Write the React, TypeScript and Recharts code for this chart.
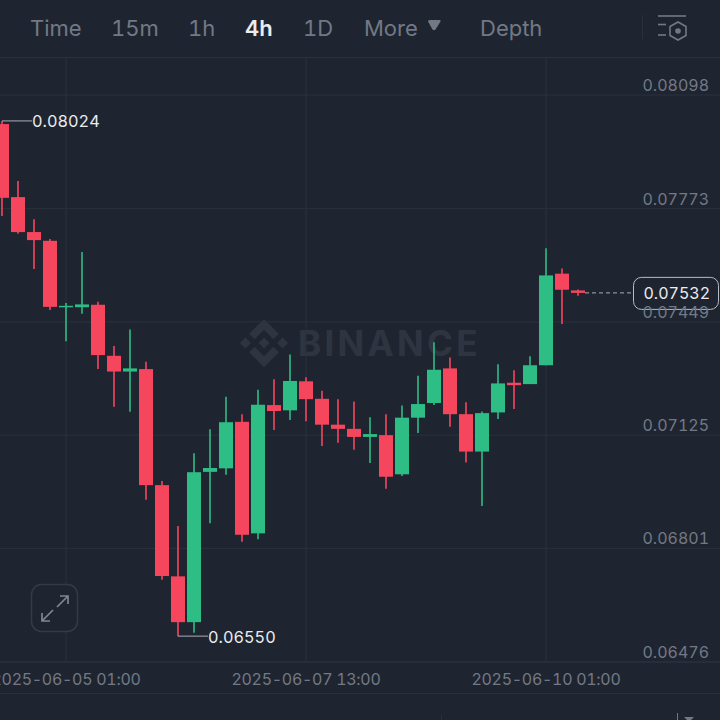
import React from 'react';
import { ComposedChart, Bar, XAxis, YAxis, CartesianGrid } from 'recharts';

const BG = '#1f2530';
const GRID = '#2b313c';
const RED = '#f6465d';
const GREEN = '#2ebd85';
const AXIS_TEXT = '#727985';
const FONT = 'Inter, "Noto Sans", sans-serif';
const TABULAR = { fontVariantNumeric: 'tabular-nums' };

const openTimes = [
  '2025-06-04 09:00', '2025-06-04 13:00', '2025-06-04 17:00', '2025-06-04 21:00',
  '2025-06-05 01:00', '2025-06-05 05:00', '2025-06-05 09:00', '2025-06-05 13:00',
  '2025-06-05 17:00', '2025-06-05 21:00', '2025-06-06 01:00', '2025-06-06 05:00',
  '2025-06-06 09:00', '2025-06-06 13:00', '2025-06-06 17:00', '2025-06-06 21:00',
  '2025-06-07 01:00', '2025-06-07 05:00', '2025-06-07 09:00', '2025-06-07 13:00',
  '2025-06-07 17:00', '2025-06-07 21:00', '2025-06-08 01:00', '2025-06-08 05:00',
  '2025-06-08 09:00', '2025-06-08 13:00', '2025-06-08 17:00', '2025-06-08 21:00',
  '2025-06-09 01:00', '2025-06-09 05:00', '2025-06-09 09:00', '2025-06-09 13:00',
  '2025-06-09 17:00', '2025-06-09 21:00', '2025-06-10 01:00', '2025-06-10 05:00',
  '2025-06-10 09:00',
];

const opens = [
  0.08015, 0.07806, 0.07706, 0.07681, 0.07492, 0.07491, 0.07498, 0.07352, 0.07307, 0.07314,
  0.06982, 0.06721, 0.0659, 0.0702, 0.0703, 0.07163, 0.06844, 0.07211, 0.07196, 0.07279,
  0.07229, 0.07155, 0.07143, 0.0712, 0.07125, 0.07013, 0.07175, 0.07217, 0.07316, 0.07185,
  0.07078, 0.0719, 0.07275, 0.07271, 0.07325, 0.07587, 0.07539,
];
const closes = [
  0.07804, 0.07706, 0.07683, 0.07492, 0.07495, 0.07499, 0.07354, 0.07307, 0.07316, 0.06982,
  0.06722, 0.0659, 0.07019, 0.07031, 0.07162, 0.0684, 0.07212, 0.07194, 0.0728, 0.07228,
  0.07155, 0.07143, 0.0712, 0.07128, 0.07006, 0.07175, 0.07214, 0.07312, 0.07185, 0.07078,
  0.07188, 0.07273, 0.07268, 0.07325, 0.07582, 0.07541, 0.07532,
];
const highs = [
  0.08024, 0.07852, 0.07743, 0.07686, 0.07503, 0.07649, 0.07507, 0.0738, 0.07427, 0.07335,
  0.06994, 0.06865, 0.07073, 0.07142, 0.07235, 0.07185, 0.07255, 0.07285, 0.07356, 0.07291,
  0.07252, 0.07228, 0.07221, 0.07176, 0.07185, 0.0721, 0.07295, 0.07391, 0.07347, 0.07219,
  0.07193, 0.07328, 0.07311, 0.07351, 0.0766, 0.07602, 0.07542,
];
const lows = [
  0.07752, 0.07701, 0.076, 0.07483, 0.07394, 0.07472, 0.07314, 0.07206, 0.07192, 0.0694,
  0.06711, 0.0655, 0.0656, 0.06873, 0.07012, 0.0682, 0.06827, 0.0714, 0.07168, 0.07165,
  0.07094, 0.07103, 0.07083, 0.07045, 0.06972, 0.07008, 0.07131, 0.07211, 0.07149, 0.07047,
  0.06922, 0.07171, 0.072, 0.07271, 0.07325, 0.07443, 0.07524,
];

const priceTicks = [0.06476, 0.06801, 0.07125, 0.07449, 0.07773, 0.08098];
const timeTickLabels = ['2025-06-05 01:00', '2025-06-07 13:00', '2025-06-10 01:00'];
const periodLabels = ['Time', '15m', '1h', '4h', '1D', 'More', 'Depth'];

const HOUR = 3600000;
const toMs = (s: string) => Date.parse(s.replace(' ', 'T') + ':00Z');
const fmtTime = (ms: number) => new Date(ms).toISOString().slice(0, 16).replace('T', ' ');

const data = openTimes.map((t, i) => ({
  t: toMs(t),
  open: opens[i],
  close: closes[i],
  high: highs[i],
  low: lows[i],
  range: [lows[i], highs[i]],
}));

const maxHigh = Math.max(...highs);
const minLow = Math.min(...lows);
const lastClose = closes[closes.length - 1];
const lastTime = toMs(openTimes[openTimes.length - 1]);

const Candle = (props: any) => {
  const { x, y, width, height, payload } = props;
  const up = payload.close >= payload.open;
  const color = up ? GREEN : RED;
  const cx = x + width / 2;
  const perUnit = height / (payload.high - payload.low);
  const toY = (v: number) => y + (payload.high - v) * perUnit;
  const top = toY(Math.max(payload.open, payload.close));
  const bottom = toY(Math.min(payload.open, payload.close));
  const lastY = toY(lastClose);

  return (
    <g>
      <line x1={cx} x2={cx} y1={y} y2={y + height} stroke={color} strokeWidth={1.6} />
      <rect x={x} y={top} width={width} height={Math.max(bottom - top, 1.5)} fill={color} />
      {payload.high === maxHigh && (
        <g>
          <line x1={cx} x2={cx + 30} y1={y} y2={y} stroke="#a9aeb6" strokeWidth={1} />
          <text x={cx + 30} y={y} dy={6.5} fill="#eaecef" fontSize={16.3} fontFamily={FONT} style={TABULAR}>
            {payload.high.toFixed(5)}
          </text>
        </g>
      )}
      {payload.low === minLow && (
        <g>
          <line x1={cx} x2={cx + 30} y1={y + height} y2={y + height} stroke="#a9aeb6" strokeWidth={1} />
          <text x={cx + 30} y={y + height} dy={6.5} fill="#eaecef" fontSize={16.3} fontFamily={FONT} style={TABULAR}>
            {payload.low.toFixed(5)}
          </text>
        </g>
      )}
      {payload.t === lastTime && (
        <g>
          <line x1={cx + 7} x2={632} y1={lastY} y2={lastY} stroke="#a9aeb6" strokeDasharray="4 3" />
          <rect x={633.5} y={lastY - 15.5} width={85} height={32} rx={8} fill={BG} stroke="#b7bdc6" />
          <text x={710} y={lastY} dy={6.5} textAnchor="end" fill="#eaecef" fontSize={16} fontFamily={FONT} style={TABULAR}>
            {lastClose.toFixed(5)}
          </text>
        </g>
      )}
    </g>
  );
};

const PriceTick = ({ x, y, payload }: any) => (
  <text x={x - 3} y={y - 4} textAnchor="end" fill={AXIS_TEXT} fontSize={16} fontFamily={FONT} style={TABULAR}>
    {payload.value.toFixed(5)}
  </text>
);

const TimeTick = ({ x, y, payload }: any) => (
  <text x={x} y={y + 15} textAnchor="middle" fill={AXIS_TEXT} fontSize={16} letterSpacing={-0.3} fontFamily={FONT} style={TABULAR}>
    {fmtTime(payload.value)}
  </text>
);

const Watermark = () => (
  <div style={{ position: 'absolute', left: 240, top: 319, display: 'flex', alignItems: 'center' }}>
    <svg width={48} height={48} viewBox="0 0 126.61 126.61" fill="#2f3540">
      <path d="M38.73 53.2l24.59-24.58 24.6 24.6 14.3-14.31L63.32 0 24.43 38.9l14.3 14.3z" />
      <path d="M0 63.31l14.3-14.31 14.31 14.31-14.31 14.3z" />
      <path d="M38.73 73.41l24.59 24.59 24.6-24.6 14.31 14.29-38.9 38.91-38.91-38.88v-.03z" />
      <path d="M98.03 63.31l14.3-14.31 14.31 14.3-14.31 14.32z" />
      <path d="M77.83 63.3L63.32 48.78 52.59 59.51l-1.24 1.23-2.54 2.54 14.51 14.5 14.51-14.47z" />
    </svg>
    <span style={{ marginLeft: 10, color: '#2f3540', fontSize: 35, fontWeight: 700, letterSpacing: 3.3, fontFamily: FONT }}>
      BINANCE
    </span>
  </div>
);

const periodX = [30, 111, 188, 245, 303, 364, 480];

const Toolbar = () => (
  <div style={{ position: 'absolute', left: 0, top: 0, width: 720, height: 57, fontFamily: FONT }}>
    {periodLabels.map((label, i) => (
      <span
        key={label}
        style={{
          position: 'absolute',
          left: periodX[i],
          top: 15,
          fontSize: 22,
          lineHeight: '27px',
          fontWeight: label === '4h' ? 600 : 400,
          color: label === '4h' ? '#eaecef' : AXIS_TEXT,
          ...TABULAR,
        }}
      >
        {label}
      </span>
    ))}
    <svg width={720} height={57} style={{ position: 'absolute', left: 0, top: 0 }}>
      <path d="M428 21.5q0-1.5 1.5-1.5h10q1.5 0 1 1.5l-5 8q-1.5 1.5-3 0z" fill={AXIS_TEXT} />
      <line x1={642.5} x2={642.5} y1={15} y2={39} stroke={GRID} />
      <g stroke={AXIS_TEXT} strokeWidth={1.6} fill="none">
        <line x1={658} x2={686} y1={16} y2={16} />
        <line x1={658} x2={666} y1={24.5} y2={24.5} />
        <line x1={658} x2={666} y1={35} y2={35} />
        <path d="M678 22l8 4.5v9l-8 4.5-8-4.5v-9z" />
      </g>
      <circle cx={678} cy={31} r={2.8} fill={AXIS_TEXT} />
    </svg>
  </div>
);

const ExpandButton = () => (
  <svg width={50} height={50} style={{ position: 'absolute', left: 30, top: 583 }}>
    <rect x={1.5} y={1.5} width={46} height={47} rx={10} fill={BG} stroke="#353b46" strokeWidth={1.5} />
    <g stroke="#80868f" strokeWidth={1.7} fill="none">
      <path d="M27 24l11-11M30 13h8v8" />
      <path d="M23 27l-11 11M12 30v8h8" />
    </g>
  </svg>
);

const App = () => (
  <div style={{ position: 'absolute', left: 0, top: 0, width: 720, height: 720, overflow: 'hidden', background: BG }}>
    <Watermark />
    <ComposedChart
      width={720}
      height={720}
      data={data}
      margin={{ top: 58, right: 0, bottom: 27, left: 0 }}
      style={{ position: 'absolute', left: 0, top: 0 }}
    >
      <CartesianGrid
        stroke={GRID}
        horizontalValues={priceTicks}
        verticalValues={timeTickLabels.map(toMs)}
      />
      <XAxis
        dataKey="t"
        type="number"
        scale="linear"
        domain={[toMs(openTimes[0]) - 0.5 * HOUR, toMs(openTimes[0]) + 179.5 * HOUR]}
        ticks={timeTickLabels.map(toMs)}
        interval={0}
        tick={<TimeTick />}
        tickLine={false}
        axisLine={{ stroke: GRID }}
        height={31}
        allowDataOverflow
      />
      <YAxis
        orientation="right"
        mirror
        type="number"
        domain={[0.06476, 0.08204]}
        ticks={priceTicks}
        interval={0}
        tick={<PriceTick />}
        tickLine={false}
        axisLine={false}
        allowDataOverflow
      />
      <Bar dataKey="range" barSize={14} shape={<Candle />} isAnimationActive={false} />
    </ComposedChart>
    <Toolbar />
    <ExpandButton />
    <div style={{ position: 'absolute', left: 0, top: 57, width: 720, height: 1, background: GRID }} />
    <div style={{ position: 'absolute', left: 0, top: 693, width: 720, height: 1, background: GRID }} />
    <div style={{ position: 'absolute', left: 441, top: 715, width: 1, height: 5, background: GRID }} />
    <div style={{ position: 'absolute', left: 677, top: 713, width: 1, height: 7, background: AXIS_TEXT }} />
    <svg width={12} height={4} style={{ position: 'absolute', left: 684, top: 717 }}>
      <path d="M0 0h10l-5 5z" fill={AXIS_TEXT} />
    </svg>
  </div>
);

export default App;
